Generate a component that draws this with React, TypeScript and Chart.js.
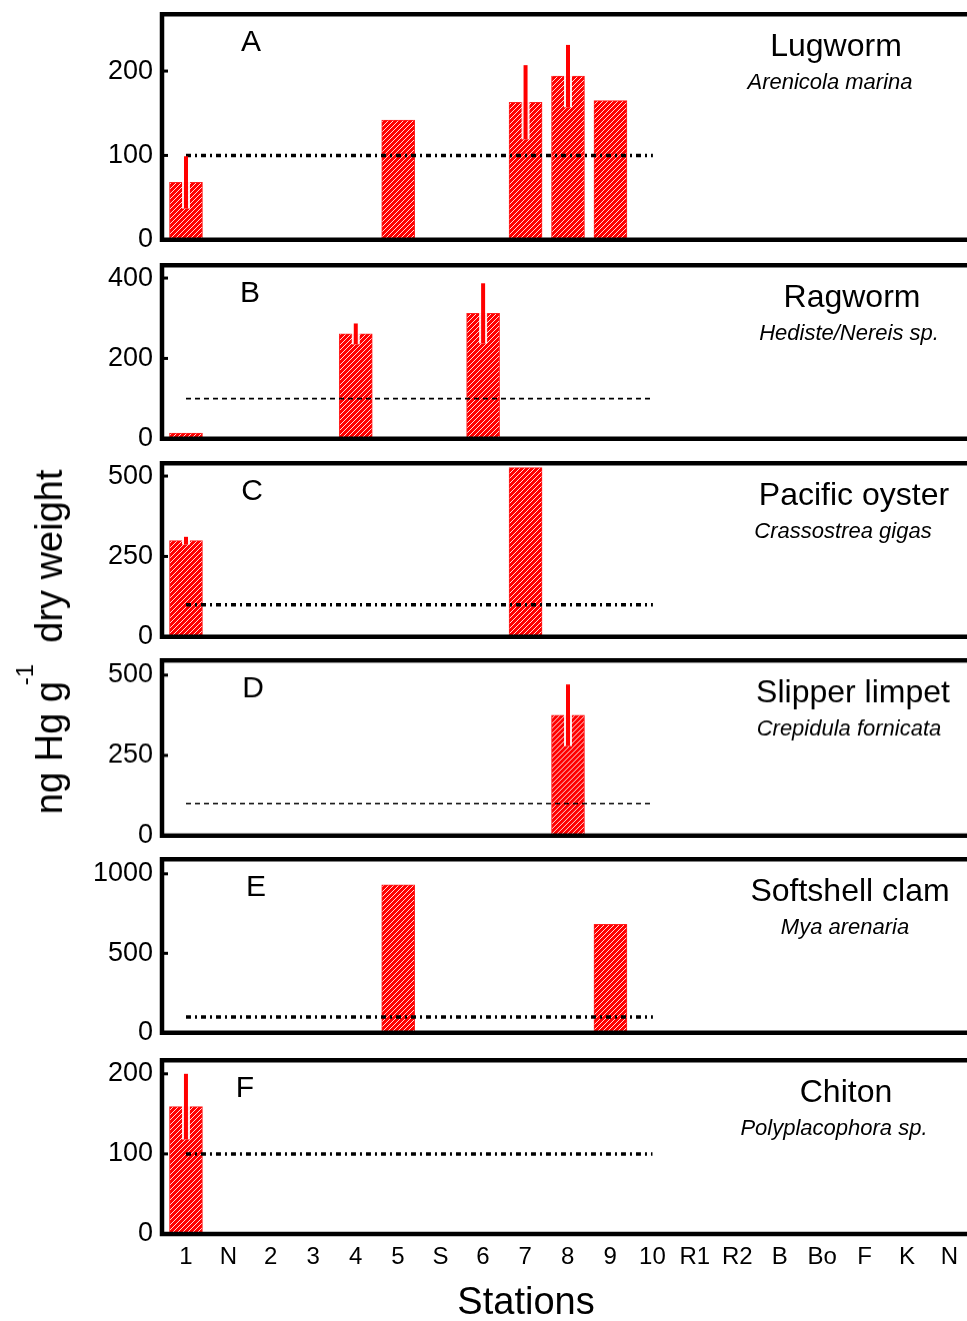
import React, { useEffect, useRef } from 'react';
import { Chart, registerables } from 'chart.js';

Chart.register(...registerables);

// ---------- DATA ----------
const stations = ['1', 'N', '2', '3', '4', '5', 'S', '6', '7', '8', '9', '10', 'R1', 'R2', 'B', 'Bo', 'F', 'K', 'N'];
const xTitle = 'Stations';

const thresholdValue = 100;
const thresholdFrom = '1';
const thresholdTo = '10';

// A - Lugworm
const lugwormStations = ['1', '5', '7', '8', '9'];
const lugwormValues = [68, 142, 163, 194, 165];
const lugwormErrors = [31, 0, 44, 37, 0];
const lugwormTicks = [0, 100, 200];

// B - Ragworm
const ragwormStations = ['1', '4', '6'];
const ragwormValues = [14, 261, 312];
const ragwormErrors = [0, 26, 75];
const ragwormTicks = [0, 200, 400];

// C - Pacific oyster
const oysterStations = ['1', '7'];
const oysterValues = [299, 526];
const oysterErrors = [12, 0];
const oysterTicks = [0, 250, 500];

// D - Slipper limpet
const limpetStations = ['8'];
const limpetValues = [375];
const limpetErrors = [96];
const limpetTicks = [0, 250, 500];

// E - Softshell clam
const clamStations = ['5', '9'];
const clamValues = [930, 682];
const clamErrors = [0, 0];
const clamTicks = [0, 500, 1000];

// F - Chiton
const chitonStations = ['1'];
const chitonValues = [159];
const chitonErrors = [41];
const chitonTicks = [0, 100, 200];

// ---------- LAYOUT / STYLE ----------
const W = 967;
const H = 1321;
const FONT = "'Liberation Sans', Arial, Helvetica, sans-serif";
const RED = '#ff0000';
const AREA_LEFT = 162;
const X_MIN = -0.565;
const X_MAX = 18.4;
const X_TITLE_X = 526;
const X_TITLE_Y = 1303;

type PanelCfg = {
  letter: string; name: string; species: string;
  stations: string[]; values: number[]; errors: number[]; ticks: number[];
  yMax: number; top: number; bottom: number; thick: boolean; letterX: number;
  nameX: number; speciesX: number; last?: boolean;
};

const panels: PanelCfg[] = [
  { letter: 'A', name: 'Lugworm', species: 'Arenicola marina', stations: lugwormStations, values: lugwormValues, errors: lugwormErrors, ticks: lugwormTicks, yMax: 267.4, top: 12.5, bottom: 240.5, thick: true, letterX: 251, nameX: 836, speciesX: 830 },
  { letter: 'B', name: 'Ragworm', species: 'Hediste/Nereis sp.', stations: ragwormStations, values: ragwormValues, errors: ragwormErrors, ticks: ragwormTicks, yMax: 432, top: 263.5, bottom: 440, thick: false, letterX: 250, nameX: 852, speciesX: 849 },
  { letter: 'C', name: 'Pacific oyster', species: 'Crassostrea gigas', stations: oysterStations, values: oysterValues, errors: oysterErrors, ticks: oysterTicks, yMax: 540, top: 461.7, bottom: 638.5, thick: true, letterX: 252, nameX: 854, speciesX: 843 },
  { letter: 'D', name: 'Slipper limpet', species: 'Crepidula fornicata', stations: limpetStations, values: limpetValues, errors: limpetErrors, ticks: limpetTicks, yMax: 546, top: 659, bottom: 836.5, thick: false, letterX: 253, nameX: 853, speciesX: 849 },
  { letter: 'E', name: 'Softshell clam', species: 'Mya arenaria', stations: clamStations, values: clamValues, errors: clamErrors, ticks: clamTicks, yMax: 1092, top: 858, bottom: 1034, thick: true, letterX: 256, nameX: 850, speciesX: 845 },
  { letter: 'F', name: 'Chiton', species: 'Polyplacophora sp.', stations: chitonStations, values: chitonValues, errors: chitonErrors, ticks: chitonTicks, yMax: 217, top: 1058.5, bottom: 1234.3, thick: true, letterX: 245, nameX: 846, speciesX: 834, last: true },
];

const PAD_TOP = 24;
const PAD_BOTTOM = 24;
const X_AXIS_H = 88;

function makeHatch(): CanvasPattern | string {
  const s = 5;
  const c = document.createElement('canvas');
  c.width = s; c.height = s;
  const g = c.getContext('2d');
  if (!g) return RED;
  g.fillStyle = RED;
  g.fillRect(0, 0, s, s);
  g.strokeStyle = 'rgba(255,255,255,0.85)';
  g.lineWidth = 1;
  for (let k = -1; k <= 1; k++) {
    g.beginPath();
    g.moveTo(k * s - 1, s + 1);
    g.lineTo(k * s + s + 1, -1);
    g.stroke();
  }
  const p = g.createPattern(c, 'repeat');
  return p || RED;
}

function Panel({ cfg }: { cfg: PanelCfg }) {
  const ref = useRef<HTMLCanvasElement | null>(null);
  const areaH = cfg.bottom - cfg.top;
  const canvasH = areaH + PAD_TOP + (cfg.last ? X_AXIS_H : PAD_BOTTOM);
  const canvasTop = cfg.top - PAD_TOP;

  useEffect(() => {
    if (!ref.current) return;
    const hatch = makeHatch();
    const barData = cfg.stations.map((s, i) => ({ x: stations.indexOf(s), y: cfg.values[i] }));
    const lineData = [
      { x: stations.indexOf(thresholdFrom), y: thresholdValue },
      { x: stations.indexOf(thresholdTo), y: thresholdValue },
    ];

    const framePlugin = {
      id: 'frame',
      afterDraw(chart: any) {
        const { ctx, chartArea } = chart;
        const ys = chart.scales.y;
        ctx.save();
        ctx.strokeStyle = '#000';
        ctx.lineWidth = 4.5;
        ctx.lineJoin = 'miter';
        ctx.beginPath();
        ctx.moveTo(W + 5, chartArea.top);
        ctx.lineTo(chartArea.left, chartArea.top);
        ctx.lineTo(chartArea.left, chartArea.bottom);
        ctx.lineTo(W + 5, chartArea.bottom);
        ctx.stroke();
        ctx.fillStyle = '#000';
        cfg.ticks.forEach((t) => {
          if (t === 0) return;
          const y = ys.getPixelForValue(t);
          ctx.fillRect(chartArea.left + 2, y - 1.5, 4, 3);
        });
        // panel texts
        ctx.textAlign = 'center';
        ctx.textBaseline = 'alphabetic';
        ctx.font = `30px ${FONT}`;
        ctx.fillText(cfg.letter, cfg.letterX, chartArea.top + 37);
        ctx.font = `32px ${FONT}`;
        ctx.fillText(cfg.name, cfg.nameX, chartArea.top + 42);
        ctx.font = `italic 22px ${FONT}`;
        ctx.fillText(cfg.species, cfg.speciesX, chartArea.top + 75);
        if (cfg.last) {
          ctx.font = `38px ${FONT}`;
          ctx.textBaseline = 'middle';
          ctx.fillText(xTitle, X_TITLE_X, X_TITLE_Y - canvasTop);
        }
        ctx.restore();
      },
    };

    const errorPlugin = {
      id: 'errbars',
      afterDatasetsDraw(chart: any) {
        const { ctx } = chart;
        const xs = chart.scales.x;
        const ys = chart.scales.y;
        ctx.save();
        cfg.stations.forEach((s, i) => {
          const e = cfg.errors[i];
          if (!e) return;
          const v = cfg.values[i];
          const x = xs.getPixelForValue(stations.indexOf(s));
          const yv = ys.getPixelForValue(v);
          const yLo = ys.getPixelForValue(v - e);
          const yHi = ys.getPixelForValue(v + e);
          ctx.strokeStyle = 'rgba(255,255,255,0.9)';
          ctx.lineWidth = 8;
          ctx.beginPath();
          ctx.moveTo(x, yLo);
          ctx.lineTo(x, yv - 2);
          ctx.stroke();
          ctx.strokeStyle = RED;
          ctx.lineWidth = 4;
          ctx.beginPath();
          ctx.moveTo(x, yLo);
          ctx.lineTo(x, yHi);
          ctx.stroke();
        });
        ctx.restore();
      },
    };

    const chart = new Chart(ref.current, {
      type: 'bar',
      data: {
        datasets: [
          {
            type: 'line',
            data: lineData,
            borderColor: '#000',
            borderWidth: cfg.thick ? 3.5 : 1.6,
            borderDash: cfg.thick ? [5, 4, 2, 4] : [5, 4],
            pointRadius: 0,
            fill: false,
            order: 0,
          } as any,
          {
            type: 'bar',
            data: barData,
            backgroundColor: hatch as any,
            borderColor: '#ff2020',
            borderWidth: 1,
            barThickness: 33,
            order: 1,
          } as any,
        ],
      },
      options: {
        responsive: false,
        maintainAspectRatio: false,
        animation: false,
        layout: { padding: { top: PAD_TOP, bottom: cfg.last ? 0 : PAD_BOTTOM, left: 0, right: 0 } },
        plugins: { legend: { display: false }, tooltip: { enabled: false } },
        scales: {
          x: {
            type: 'linear',
            offset: false,
            min: X_MIN,
            max: X_MAX,
            display: !!cfg.last,
            grid: { display: false, drawTicks: false, offset: false },
            border: { display: false },
            afterBuildTicks: (s: any) => { s.ticks = stations.map((_, i) => ({ value: i })); },
            afterFit: (s: any) => { if (cfg.last) s.height = X_AXIS_H; },
            ticks: {
              autoSkip: false,
              maxRotation: 0,
              minRotation: 0,
              padding: 9,
              color: '#000',
              font: { family: FONT, size: 24 },
              callback: (v: any) => stations[Math.round(Number(v))] ?? '',
            },
          },
          y: {
            min: 0,
            max: cfg.yMax,
            grid: { display: false, drawTicks: false },
            border: { display: false },
            afterBuildTicks: (s: any) => { s.ticks = cfg.ticks.map((v) => ({ value: v })); },
            afterFit: (s: any) => { s.width = AREA_LEFT; },
            ticks: {
              padding: 9,
              color: '#000',
              font: { family: FONT, size: 27 },
              callback: (v: any) => String(v),
            },
          },
        },
      } as any,
      plugins: [errorPlugin, framePlugin],
    });
    return () => chart.destroy();
  }, [cfg]);

  return (
    <canvas
      ref={ref}
      width={W}
      height={canvasH}
      style={{ position: 'absolute', left: 0, top: canvasTop, width: W, height: canvasH }}
    />
  );
}

export default function App() {
  useEffect(() => {
    document.body.style.margin = '0';
  }, []);
  return (
    <div style={{ position: 'relative', width: W, height: H, overflow: 'hidden', background: '#fff' }}>
      {panels.map((p) => (
        <Panel key={p.letter} cfg={p} />
      ))}
      <div
        style={{
          position: 'absolute',
          left: 49,
          top: 642,
          transform: 'translate(-50%, -50%) rotate(-90deg)',
          whiteSpace: 'nowrap',
          fontFamily: FONT,
          fontSize: 38,
          lineHeight: 1,
          color: '#000',
        }}
      >
        ng Hg g
        <span style={{ fontSize: 24, position: 'relative', top: -29, marginLeft: -4 }}>-1</span>
        {'\u00a0\u00a0'}dry weight
      </div>
    </div>
  );
}
